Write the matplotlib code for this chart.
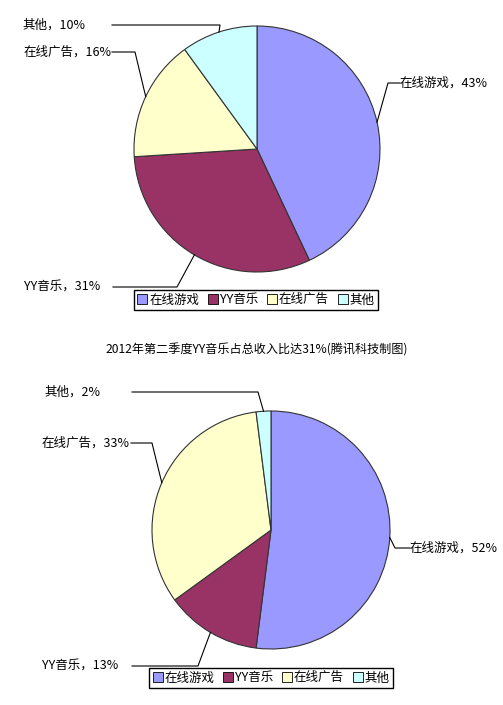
import numpy as np
import matplotlib
matplotlib.use('Agg')
import matplotlib.pyplot as plt
from matplotlib.patches import Patch

plt.rcParams['font.family'] = ['Noto Sans CJK SC', 'DejaVu Sans']

# data
categories = ['在线游戏', 'YY音乐', '在线广告', '其他']
share_q1 = [43, 31, 16, 10]
share_q2 = [52, 13, 33, 2]
colors = ['#9999FF', '#993366', '#FFFFCC', '#CCFFFF']
title = '2012年第二季度YY音乐占总收入比达31%(腾讯科技制图)'

W, H = 503, 705
fig = plt.figure(figsize=(W / 100, H / 100), dpi=100)
ax = fig.add_axes([0, 0, 1, 1])


def draw_pie(values, cx, cy, r, spots, legend_center):
    # pixel coords from top-left, converted to y-up
    cy = H - cy
    wedges, _ = ax.pie(values, colors=colors, startangle=90, counterclock=False,
                       center=(cx, cy), radius=r, frame=True,
                       wedgeprops=dict(edgecolor='#333333', linewidth=0.8))
    for w, name, v, (tx, ty, ha, xa, xb) in zip(wedges, categories, values, spots):
        mid = np.deg2rad((w.theta1 + w.theta2) / 2)
        ex, ey = cx + r * np.cos(mid), cy + r * np.sin(mid)
        ax.plot([xa, xb, ex], [H - ty, H - ty, ey], color='black', lw=0.8)
        ax.text(tx, H - ty, f'{name}，{v}%', ha=ha, va='center', fontsize=9)
    handles = [Patch(facecolor=c, edgecolor='black', linewidth=0.6) for c in colors]
    leg = fig.legend(handles, categories, loc='center', ncol=4, fontsize=9,
                     bbox_to_anchor=(legend_center[0] / W, 1 - legend_center[1] / H),
                     fancybox=False, edgecolor='black', framealpha=1,
                     handlelength=0.8, handleheight=0.8, handletextpad=0.15,
                     columnspacing=0.7, borderpad=0.25, borderaxespad=0)
    leg.get_frame().set_linewidth(1.0)


draw_pie(share_q1, 257, 149, 123,
         [(400, 83, 'left', 400, 388),
          (100, 287, 'right', 113, 177),
          (112, 52, 'right', 112, 135),
          (85, 25, 'right', 112, 220)],
         (256, 300))

ax.text(257, H - 350, title, ha='center', va='center', fontsize=8.7)

draw_pie(share_q2, 271, 530, 119,
         [(410, 548, 'left', 410, 395),
          (118, 666, 'right', 132, 198),
          (130, 443, 'right', 131, 152),
          (100, 392, 'right', 132, 258)],
         (271, 678))

ax.set_xlim(0, W)
ax.set_ylim(0, H)
ax.set_aspect('equal')
ax.axis('off')

plt.savefig('out.png', dpi=100)
